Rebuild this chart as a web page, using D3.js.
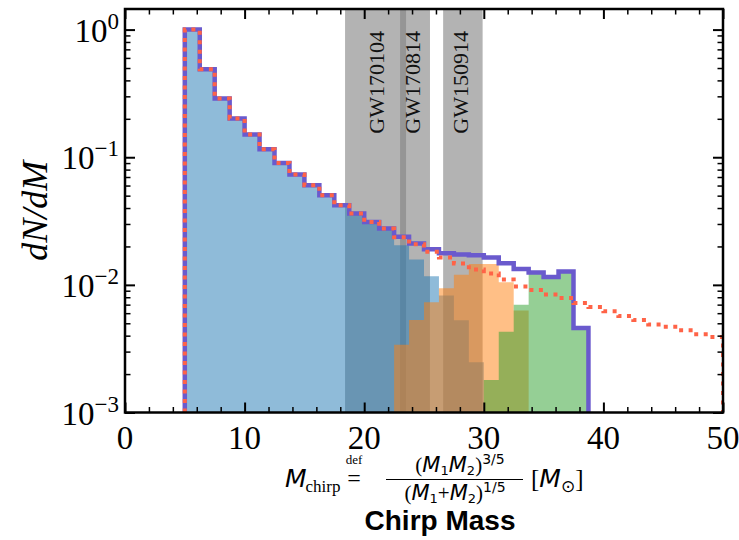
<!DOCTYPE html>
<html>
<head>
<meta charset="utf-8">
<script src="https://cdn.jsdelivr.net/npm/d3@7"></script>
<style>
body { margin: 0; background: #fff; }
svg { display: block; }
</style>
</head>
<body>
<div id="chart"></div>
<script>
// histogram bin edges (chirp mass, Msun)
var binEdges = [5, 6.25, 7.5, 8.75, 10, 11.25, 12.5, 13.75, 15, 16.25, 17.5, 18.75,
	20, 21.25, 22.5, 23.75, 25, 26.25, 27.5, 28.75, 30, 31.25, 32.5, 33.75, 35,
	36.25, 37.5, 38.75, 40, 41.25, 42.5, 43.75, 45, 46.25, 47.5, 48.75, 50];

// blue population, starts at bin 0
var blueValues = [1.0, 0.49, 0.289, 0.201, 0.151, 0.1155, 0.0902, 0.0732, 0.0603, 0.0504,
	0.0420, 0.0362, 0.0311, 0.0276, 0.0204, 0.0158, 0.0117, 0.00827, 0.00527, 0.00248];
var blueFirstBin = 0;

// orange population, starts at bin 14
var orangeValues = [0.0034, 0.0053, 0.0073, 0.0094, 0.0120, 0.0146, 0.0146, 0.0105, 0.0063];
var orangeFirstBin = 14;

// green population, starts at bin 20
var greenValues = [0.0018, 0.0043, 0.0070, 0.0125, 0.0115, 0.0127, 0.0046];
var greenFirstBin = 20;

// dotted model without cutoff, bins 0..35
var modelValues = [1.0, 0.49, 0.289, 0.201, 0.151, 0.1155, 0.0902, 0.0732, 0.0603, 0.0504,
	0.0420, 0.0362, 0.0311, 0.0276, 0.0236, 0.0208, 0.0182, 0.0164, 0.0147, 0.0132,
	0.0123, 0.0110, 0.0097, 0.0091, 0.0084, 0.0079, 0.0072, 0.0067, 0.0062, 0.0057,
	0.0053, 0.0049, 0.0047, 0.0044, 0.0041, 0.0039];

// observed events: name, chirp mass and 90% range
var eventNames = ["GW170104", "GW170814", "GW150914"];
var eventMass = [21.1, 24.1, 28.1];
var eventLow = [18.4, 23.0, 26.6];
var eventHigh = [23.5, 25.5, 29.9];

var xTicks = [0, 10, 20, 30, 40, 50];
var yTickExp = [0, -1, -2, -3];

var serif = "'Liberation Serif', 'DejaVu Serif', serif";
var sans = "'Liberation Sans', Arial, sans-serif";
var msans = "'DejaVu Sans', sans-serif";

var width = 739, height = 540;
var pLeft = 125, pRight = 723, pTop = 9, pBottom = 412.5;

var svg = d3.select("#chart").append("svg")
	.attr("width", width)
	.attr("height", height);

var x = d3.scaleLinear().domain([0, 50]).range([pLeft, pRight]);
var y = d3.scaleLog().domain([1e-3, 1.45]).range([pBottom, pTop]);

svg.append("clipPath").attr("id", "plot")
	.append("rect")
	.attr("x", pLeft).attr("y", pTop)
	.attr("width", pRight - pLeft).attr("height", pBottom - pTop);

var plot = svg.append("g").attr("clip-path", "url(#plot)");

// grey bands for the events
plot.selectAll(".band")
	.data(eventNames)
	.enter().append("rect")
	.attr("class", "band")
	.attr("x", function(d, i) { return x(eventLow[i]); })
	.attr("width", function(d, i) { return x(eventHigh[i]) - x(eventLow[i]); })
	.attr("y", pTop)
	.attr("height", pBottom - pTop)
	.style("fill", "#808080")
	.style("fill-opacity", 0.6);

// step outline of a histogram, from the baseline up and back down
function stepPath(values, first, close) {
	var p = d3.path();
	p.moveTo(x(binEdges[first]), pBottom);
	values.forEach(function(v, i) {
		p.lineTo(x(binEdges[first + i]), y(v));
		p.lineTo(x(binEdges[first + i + 1]), y(v));
	});
	p.lineTo(x(binEdges[first + values.length]), pBottom);
	if (close) p.closePath();
	return p.toString();
}

var fills = [
	{ values: blueValues, first: blueFirstBin, color: "#1f77b4" },
	{ values: orangeValues, first: orangeFirstBin, color: "#ff7f0e" },
	{ values: greenValues, first: greenFirstBin, color: "#2ca02c" }
];

plot.selectAll(".hist")
	.data(fills)
	.enter().append("path")
	.attr("class", "hist")
	.attr("d", function(d) { return stepPath(d.values, d.first, true); })
	.style("fill", function(d) { return d.color; })
	.style("fill-opacity", 0.5)
	.style("stroke", "none");

// total of the three populations
var nTotal = greenFirstBin + greenValues.length;
var totalValues = d3.range(nTotal).map(function(i) {
	var s = 0;
	fills.forEach(function(f) {
		var k = i - f.first;
		if (k >= 0 && k < f.values.length) s += f.values[k];
	});
	return s;
});

plot.append("path")
	.attr("d", stepPath(totalValues, 0, false))
	.style("fill", "none")
	.style("stroke", "#6a5acd")
	.style("stroke-width", 4.5);

plot.append("path")
	.attr("d", stepPath(modelValues, 0, false))
	.style("fill", "none")
	.style("stroke", "#ff6347")
	.style("stroke-width", 4)
	.style("stroke-dasharray", "4,5.5");

// event labels
svg.selectAll(".evlabel")
	.data(eventNames)
	.enter().append("text")
	.attr("class", "evlabel")
	.attr("transform", function(d, i) { return "translate(" + (x(eventMass[i]) + 7) + "," + 31 + ") rotate(-90)"; })
	.attr("text-anchor", "end")
	.style("font-family", serif)
	.style("font-size", "22px")
	.style("fill", "#111")
	.text(function(d) { return d; });

// ticks on all four sides, pointing inward
var xMinor = d3.range(0, 51, 2).filter(function(v) { return v % 10 !== 0; });
var yMinor = [];
[-3, -2, -1].forEach(function(e) {
	for (var m = 2; m < 10; m++) yMinor.push(m * Math.pow(10, e));
});
var yMajor = yTickExp.map(function(e) { return Math.pow(10, e); });

function ticks(axisFn, scale, values, size, sw, tx, ty) {
	var g = svg.append("g")
		.attr("transform", "translate(" + tx + "," + ty + ")")
		.call(axisFn(scale).tickValues(values).tickSize(size).tickFormat(""));
	g.select(".domain").remove();
	g.selectAll("line").style("stroke", "#000").style("stroke-width", sw);
}

ticks(d3.axisBottom, x, xTicks, -10, 2, 0, pBottom);
ticks(d3.axisBottom, x, xMinor, -5.5, 1.5, 0, pBottom);
ticks(d3.axisTop, x, xTicks, -10, 2, 0, pTop);
ticks(d3.axisTop, x, xMinor, -5.5, 1.5, 0, pTop);
ticks(d3.axisLeft, y, yMajor, -10, 2, pLeft, 0);
ticks(d3.axisLeft, y, yMinor, -5.5, 1.5, pLeft, 0);
ticks(d3.axisRight, y, yMajor, -10, 2, pRight, 0);
ticks(d3.axisRight, y, yMinor, -5.5, 1.5, pRight, 0);

svg.append("rect")
	.attr("x", pLeft).attr("y", pTop)
	.attr("width", pRight - pLeft).attr("height", pBottom - pTop)
	.style("fill", "none")
	.style("stroke", "#000")
	.style("stroke-width", 2.5);

// x tick labels
svg.selectAll(".xlab")
	.data(xTicks)
	.enter().append("text")
	.attr("class", "xlab")
	.attr("x", function(d) { return x(d); })
	.attr("y", 449)
	.attr("text-anchor", "middle")
	.style("font-family", serif)
	.style("font-size", "33px")
	.text(function(d) { return d; });

// text made of pieces with their own size, font and vertical offset
function mathText(x0, y0, anchor, parts) {
	var t = svg.append("text")
		.attr("x", x0).attr("y", y0)
		.attr("text-anchor", anchor);
	var cur = 0;
	parts.forEach(function(p) {
		var off = p.off || 0;
		t.append("tspan")
			.attr("dy", off - cur)
			.attr("dx", p.dx || 0)
			.style("font-size", p.size + "px")
			.style("font-family", p.fam || serif)
			.style("font-style", p.it ? "italic" : "normal")
			.text(p.t);
		cur = off;
	});
	return t;
}

// y tick labels 10^n
yTickExp.forEach(function(e) {
	mathText(119, y(Math.pow(10, e)) + 12, "end", [
		{ t: "10", size: 33 },
		{ t: e === 0 ? "0" : "\u2212" + (-e), size: 23, off: -13 }
	]);
});

// y axis title
svg.append("text")
	.attr("transform", "translate(47," + ((pTop + pBottom) / 2) + ") rotate(-90)")
	.attr("text-anchor", "middle")
	.style("font-family", serif)
	.style("font-style", "italic")
	.style("font-size", "36px")
	.text("dN/dM");

// x axis title: M_chirp def= (M1 M2)^(3/5) / (M1+M2)^(1/5) [M_sun]
mathText(285, 487, "start", [
	{ t: "M", size: 25, fam: msans, it: true },
	{ t: "chirp", size: 17, off: 5, dx: -1 }
]);
mathText(354, 464, "middle", [{ t: "def", size: 13 }]);
mathText(354, 486, "middle", [{ t: "=", size: 24 }]);
mathText(460, 472, "middle", [
	{ t: "(", size: 21 },
	{ t: "M", size: 21, fam: msans, it: true },
	{ t: "1", size: 13, fam: msans, off: 3 },
	{ t: "M", size: 21, fam: msans, it: true },
	{ t: "2", size: 13, fam: msans, off: 3 },
	{ t: ")", size: 21 },
	{ t: "3/5", size: 14, fam: msans, off: -8 }
]);
svg.append("line")
	.attr("x1", 386).attr("x2", 523)
	.attr("y1", 479.5).attr("y2", 479.5)
	.style("stroke", "#000").style("stroke-width", 1);
mathText(455, 500, "middle", [
	{ t: "(", size: 21 },
	{ t: "M", size: 21, fam: msans, it: true },
	{ t: "1", size: 13, fam: msans, off: 3 },
	{ t: "+", size: 21, off: 0 },
	{ t: "M", size: 21, fam: msans, it: true },
	{ t: "2", size: 13, fam: msans, off: 3 },
	{ t: ")", size: 21 },
	{ t: "1/5", size: 14, fam: msans, off: -8 }
]);
mathText(531, 487, "start", [
	{ t: "[", size: 25 },
	{ t: "M", size: 25, fam: msans, it: true },
	{ t: "\u2299", size: 17, fam: msans, off: 5 },
	{ t: "]", size: 25, off: 0 }
]);

svg.append("text")
	.attr("x", 440).attr("y", 530)
	.attr("text-anchor", "middle")
	.style("font-family", sans)
	.style("font-weight", "bold")
	.style("font-size", "28px")
	.text("Chirp Mass");
</script>
</body>
</html>
